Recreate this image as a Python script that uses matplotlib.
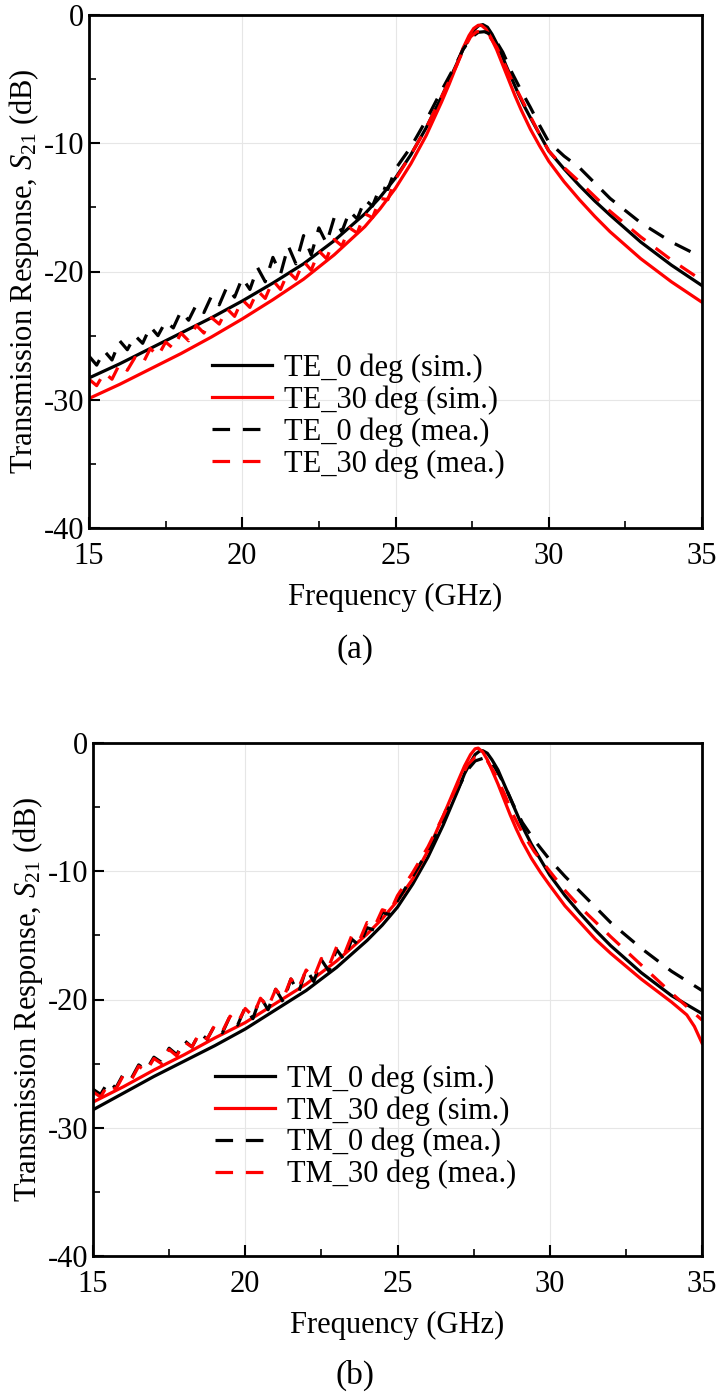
import matplotlib.pyplot as plt
from matplotlib.ticker import MultipleLocator

plt.rcParams['font.family'] = ['Liberation Serif', 'DejaVu Serif']
plt.rcParams['mathtext.fontset'] = 'custom'
plt.rcParams['mathtext.rm'] = 'Liberation Serif'
plt.rcParams['mathtext.it'] = 'Liberation Serif:italic'
plt.rcParams['axes.unicode_minus'] = False
plt.rcParams['font.size'] = 22

# ---- data (a) TE ----
te0_sim_f = [15, 16, 17, 18, 19, 20, 21, 22, 23, 24, 24.5, 25, 25.5, 26, 26.5, 26.75, 27, 27.2,
             27.4, 27.55, 27.7, 27.85, 28.0, 28.15, 28.3, 28.45, 28.6, 28.8, 29.0, 29.2, 29.4,
             29.7, 30, 30.5, 31, 31.5, 32, 33, 34, 35]
te0_sim = [-28.3, -27.2, -26.0, -24.8, -23.6, -22.3, -20.9, -19.4, -17.6, -15.5, -14.2, -12.7,
           -10.9, -8.8, -6.4, -5.1, -3.8, -2.7, -1.8, -1.2, -0.85, -0.75, -0.95, -1.5, -2.2, -3.0,
           -3.9, -5.0, -6.1, -7.1, -8.0, -9.3, -10.6, -12.0, -13.3, -14.5, -15.6, -17.7, -19.5,
           -21.1]
te30_sim_f = [15, 16, 17, 18, 19, 20, 21, 22, 23, 24, 24.5, 25, 25.5, 26, 26.5, 26.75, 27, 27.2,
              27.4, 27.55, 27.7, 27.8, 27.95, 28.1, 28.3, 28.5, 28.7, 28.9, 29.1, 29.4, 29.7, 30,
              30.5, 31, 31.5, 32, 33, 34, 35]
te30_sim = [-29.9, -28.8, -27.6, -26.4, -25.1, -23.7, -22.2, -20.6, -18.7, -16.5, -15.1, -13.5,
            -11.6, -9.4, -6.8, -5.4, -3.9, -2.6, -1.6, -1.05, -0.8, -0.8, -1.1, -1.7, -2.7, -3.9,
            -5.1, -6.3, -7.4, -8.9, -10.2, -11.4, -13.0, -14.4, -15.7, -16.9, -19.0, -20.8, -22.4]
te0_mea_f = [15.0, 15.25, 15.5, 15.75, 16.0, 16.25, 16.5, 16.75, 17.0, 17.25, 17.5, 17.75, 18.0,
             18.25, 18.5, 18.75, 19.0, 19.25, 19.5, 19.75, 20.0, 20.25, 20.5, 20.75, 21.0, 21.25,
             21.5, 21.75, 22.0, 22.25, 22.5, 22.75, 23.0, 23.25, 23.5, 23.75, 24.0, 24.25, 24.5,
             24.75, 25.0, 25.5, 26, 26.5, 27, 27.2, 27.5, 27.7, 27.9, 28.1, 28.3, 28.5, 28.8, 29.1,
             29.4, 29.7, 30, 30.5, 31, 32, 33, 34, 35]
te0_mea = [-26.6, -27.3, -26.2, -26.9, -25.4, -26.1, -25.0, -25.6, -24.3, -25.0, -23.9, -24.4,
           -23.1, -23.8, -22.6, -23.2, -21.9, -22.6, -21.2, -22.0, -20.5, -21.4, -19.7, -20.8,
           -18.9, -20.2, -18.0, -19.4, -17.2, -18.7, -16.6, -17.8, -15.8, -16.9, -15.3, -15.9,
           -14.4, -14.9, -13.4, -13.6, -12.0, -10.3, -8.2, -5.9, -3.7, -2.7, -1.7, -1.35, -1.3,
           -1.5, -2.1, -2.9, -4.5, -5.9, -7.2, -8.6, -9.9, -11.0, -11.9, -14.3, -16.2, -17.7,
           -18.9]
te30_mea_f = [15.0, 15.25, 15.5, 15.75, 16.0, 16.25, 16.5, 16.75, 17.0, 17.25, 17.5, 17.75, 18.0,
              18.25, 18.5, 18.75, 19.0, 19.25, 19.5, 19.75, 20.0, 20.25, 20.5, 20.75, 21.0, 21.25,
              21.5, 21.75, 22.0, 22.25, 22.5, 22.75, 23.0, 23.25, 23.5, 23.75, 24.0, 24.25, 24.5,
              24.75, 25.0, 25.5, 26, 26.5, 27, 27.2, 27.45, 27.65, 27.85, 28.05, 28.3, 28.5, 28.8,
              29.1, 29.4, 29.7, 30, 30.5, 31, 32, 33, 34, 35]
te30_mea = [-28.4, -28.9, -27.9, -28.4, -27.2, -27.7, -26.7, -27.2, -26.0, -26.6, -25.5, -26.0,
            -24.8, -25.4, -24.2, -24.8, -23.6, -24.1, -22.9, -23.5, -22.2, -22.8, -21.5, -22.1,
            -20.7, -21.4, -20.0, -20.6, -19.2, -19.9, -18.4, -19.0, -17.5, -18.0, -16.6, -17.0,
            -15.5, -15.8, -14.3, -14.4, -12.8, -10.9, -8.8, -6.4, -3.9, -2.8, -1.7, -1.3, -1.3,
            -1.6, -2.5, -3.5, -5.1, -6.5, -7.9, -9.3, -10.6, -11.9, -13.0, -15.3, -17.3, -19.1,
            -20.7]

# ---- data (b) TM ----
tm0_sim_f = [15, 16, 17, 18, 19, 20, 21, 22, 23, 24, 24.5, 25, 25.5, 26, 26.5, 26.75, 27, 27.2,
             27.4, 27.55, 27.7, 27.8, 27.95, 28.1, 28.3, 28.5, 28.7, 28.9, 29.1, 29.4, 29.7, 30,
             30.5, 31, 31.5, 32, 33, 34, 35]
tm0_sim = [-28.6, -27.3, -26.0, -24.8, -23.6, -22.3, -20.8, -19.3, -17.5, -15.4, -14.2, -12.8,
           -11.0, -8.9, -6.4, -5.0, -3.6, -2.4, -1.5, -0.9, -0.62, -0.6, -0.8, -1.3, -2.1, -3.2,
           -4.3, -5.4, -6.5, -7.9, -9.1, -10.3, -11.9, -13.3, -14.6, -15.8, -17.9, -19.7, -21.1]
tm30_sim_f = [15, 16, 17, 18, 19, 20, 21, 22, 23, 24, 24.5, 25, 25.5, 26, 26.5, 26.75, 27, 27.2,
              27.4, 27.55, 27.65, 27.8, 27.95, 28.1, 28.3, 28.5, 28.7, 28.9, 29.1, 29.4, 29.7, 30,
              30.5, 31, 31.5, 32, 33, 34, 34.5, 34.75, 35]
tm30_sim = [-28.0, -26.8, -25.5, -24.3, -23.0, -21.8, -20.3, -18.8, -17.0, -14.9, -13.7, -12.3,
            -10.6, -8.4, -5.7, -4.3, -2.9, -1.8, -0.9, -0.45, -0.4, -0.7, -1.3, -2.1, -3.2, -4.4,
            -5.6, -6.7, -7.7, -9.0, -10.1, -11.1, -12.7, -14.0, -15.3, -16.4, -18.4, -20.2, -21.2,
            -22.1, -23.4]
tm0_mea_f = te0_mea_f[:41] + [25.5, 26, 26.5, 27, 27.3, 27.55, 27.8, 28.0, 28.2, 28.5, 28.8,
                              29.1, 29.5, 30, 30.5, 31, 32, 33, 34, 35]
tm0_mea = [-27.0, -27.4, -26.4, -26.9, -25.8, -26.2, -25.1, -25.5, -24.5, -24.9, -23.8, -24.3,
           -23.2, -23.7, -22.6, -23.1, -22.0, -22.6, -21.3, -22.0, -20.6, -21.5, -19.8, -20.8,
           -19.2, -20.2, -18.4, -19.5, -17.6, -18.6, -16.9, -17.8, -16.1, -16.9, -15.3, -15.8,
           -14.4, -14.6, -13.2, -13.4, -12.3, -10.4, -8.4, -6.0, -3.5, -2.1, -1.4, -1.2, -1.3,
           -1.9, -3.2, -4.8, -6.2, -7.6, -9.1, -10.4, -11.6, -14.0, -16.0, -17.8, -19.3]
tm30_mea_f = te0_mea_f[:41] + [25.5, 26, 26.5, 27, 27.3, 27.55, 27.75, 27.95, 28.2, 28.5, 28.8,
                               29.1, 29.5, 30, 30.5, 31, 32, 33, 34, 35]
tm30_mea = [-27.2, -27.6, -26.6, -27.0, -25.9, -26.3, -25.2, -25.6, -24.6, -25.0, -23.9, -24.4,
            -23.3, -23.7, -22.6, -23.1, -22.0, -22.5, -21.3, -21.8, -20.7, -21.3, -19.9, -20.6,
            -19.2, -19.9, -18.4, -19.1, -17.7, -18.3, -16.8, -17.4, -15.9, -16.5, -15.0, -15.4,
            -14.0, -14.3, -13.0, -13.2, -11.9, -10.1, -8.1, -5.7, -3.1, -1.7, -1.1, -1.05, -1.4,
            -2.4, -3.9, -5.6, -7.0, -8.5, -10.0, -11.5, -12.8, -15.1, -17.3, -19.5, -21.6]

fig = plt.figure(figsize=(7.19, 14.0), dpi=100)
ax1 = fig.add_axes([89 / 719, 1 - 528 / 1400, 613 / 719, 513 / 1400])
ax2 = fig.add_axes([93 / 719, 1 - 1256 / 1400, 609 / 719, 513 / 1400])

panels = [
    (ax1, 'TE', te0_sim_f, te0_sim, te30_sim_f, te30_sim, te0_mea_f, te0_mea, te30_mea_f, te30_mea,
     (0.181, 0.072), '(a)', 650),
    (ax2, 'TM', tm0_sim_f, tm0_sim, tm30_sim_f, tm30_sim, tm0_mea_f, tm0_mea, tm30_mea_f, tm30_mea,
     (0.181, 0.106), '(b)', 1375),
]

for ax, mode, f0s, s0, f30s, s30, f0m, m0, f30m, m30, anchor, tag, tag_y in panels:
    ax.plot(f0s, s0, color='black', lw=2.3, label=mode + '_0 deg (sim.)')
    ax.plot(f30s, s30, color='red', lw=2.3, label=mode + '_30 deg (sim.)')
    ax.plot(f0m, m0, color='black', lw=2.3, dashes=(5.5, 4), label=mode + '_0 deg (mea.)')
    ax.plot(f30m, m30, color='red', lw=2.3, dashes=(5.5, 4), label=mode + '_30 deg (mea.)')

    ax.set_xlim(15, 35)
    ax.set_ylim(-40, 0)
    ax.xaxis.set_major_locator(MultipleLocator(5))
    ax.xaxis.set_minor_locator(MultipleLocator(2.5))
    ax.yaxis.set_major_locator(MultipleLocator(10))
    ax.yaxis.set_minor_locator(MultipleLocator(5))
    ax.tick_params(axis='x', which='major', pad=10)
    ax.tick_params(which='major', direction='in', length=8, width=1.5, labelsize=22)
    ax.tick_params(which='minor', direction='in', length=5, width=1.2)
    ax.grid(True, which='major', color='#e6e6e6', lw=0.8)
    for sp in ax.spines.values():
        sp.set_linewidth(2.0)

    ax.set_xlabel('Frequency (GHz)', fontsize=22, labelpad=9)
    ax.set_ylabel('Transmission Response, $\\mathit{S}_{21}$ (dB)', fontsize=22, labelpad=2)
    ax.legend(loc='lower left', bbox_to_anchor=anchor, frameon=False, fontsize=22,
              handlelength=1.95, labelspacing=0.08, handletextpad=0.4, borderaxespad=0)
    fig.text(355 / 719, 1 - tag_y / 1400, tag, ha='center', va='center', fontsize=24)

fig.savefig('out.png', dpi=100)
